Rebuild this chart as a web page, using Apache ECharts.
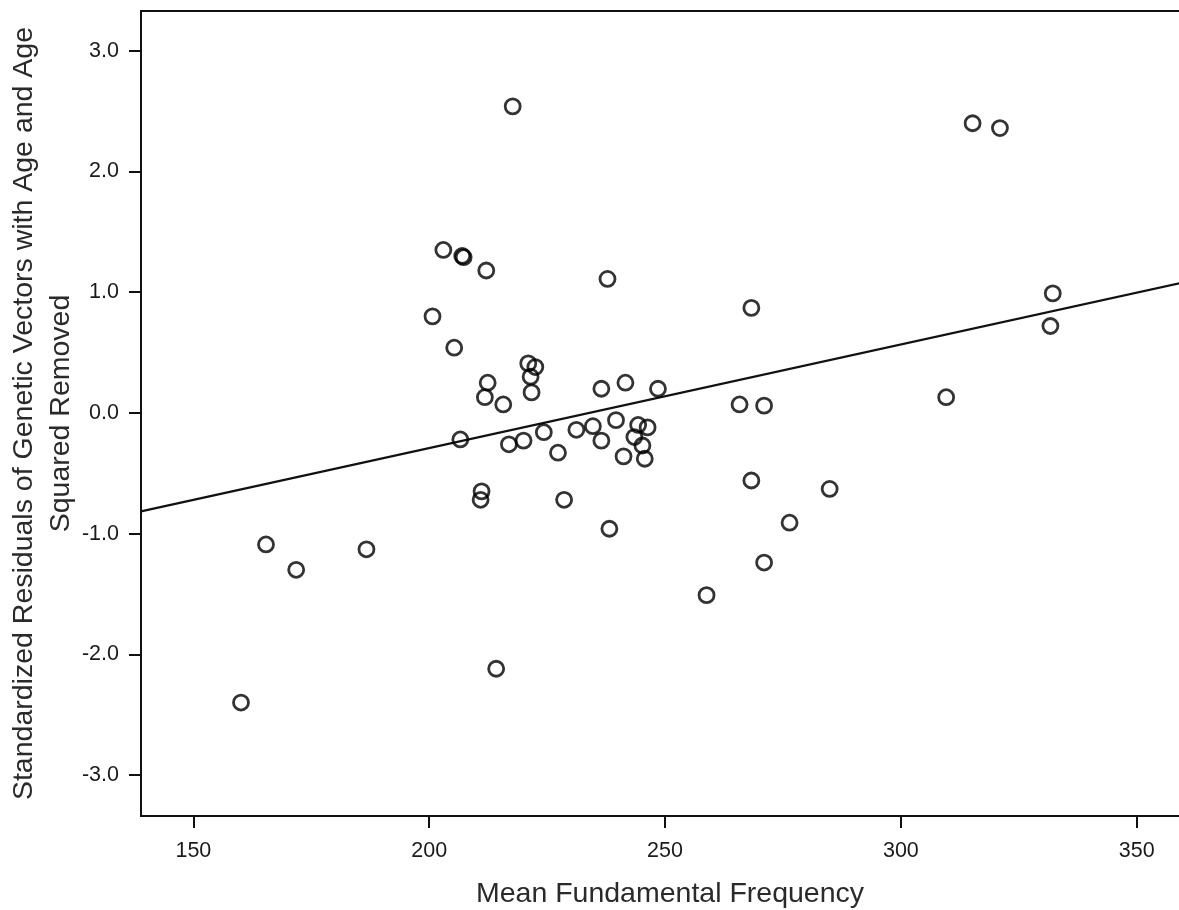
<!DOCTYPE html>
<html>
<head>
<meta charset="utf-8">
<script src="https://cdn.jsdelivr.net/npm/echarts@6/dist/echarts.min.js"></script>
<style>
html,body{margin:0;padding:0;background:#fff;}
#chart{width:1179px;height:910px;}
</style>
</head>
<body>
<div id="chart"></div>
<script>
// Mean fundamental frequency (x) and standardized residuals (y)
const freqValues = [160.1, 165.4, 171.8, 186.7, 200.7, 203.0, 207.0, 207.3, 205.3, 206.6,
  212.1, 212.4, 211.8, 215.7, 217.7, 211.1, 210.9, 214.2, 216.9, 220.0,
  221.0, 222.5, 221.5, 221.7, 224.3, 227.3, 228.6, 231.2, 234.7, 236.5,
  236.5, 237.8, 238.2, 239.6, 241.2, 241.6, 243.5, 244.3, 245.2, 245.7,
  246.3, 248.5, 258.8, 265.8, 268.3, 268.3, 271.0, 271.0, 276.4, 284.9,
  309.6, 315.2, 321.0, 331.7, 332.2];
const residualValues = [-2.40, -1.09, -1.30, -1.13, 0.80, 1.35, 1.30, 1.29, 0.54, -0.22,
  1.18, 0.25, 0.13, 0.07, 2.54, -0.65, -0.72, -2.12, -0.26, -0.23,
  0.41, 0.38, 0.30, 0.17, -0.16, -0.33, -0.72, -0.14, -0.11, 0.20,
  -0.23, 1.11, -0.96, -0.06, -0.36, 0.25, -0.20, -0.10, -0.27, -0.38,
  -0.12, 0.20, -1.51, 0.07, 0.87, -0.56, 0.06, -1.24, -0.91, -0.63,
  0.13, 2.40, 2.36, 0.72, 0.99];
// Fit line endpoints
const fitX = [138.9, 363.2];
const fitY = [-0.816, 1.11];
// Tick labels
const xTicks = [150, 200, 250, 300, 350];
const yTicks = [-3, -2, -1, 0, 1, 2, 3];

const xTitle = 'Mean Fundamental Frequency';
const yTitle = 'Standardized Residuals of Genetic Vectors with Age and Age\nSquared Removed';

const points = freqValues.map((x, i) => [x, residualValues[i]]);
const fitLine = fitX.map((x, i) => [x, fitY[i]]);

const FONT = "'Liberation Sans', Arial, sans-serif";
const chart = echarts.init(document.getElementById('chart'), null, {renderer: 'canvas'});
chart.setOption({
  backgroundColor: '#ffffff',
  animation: false,
  grid: {left: 141, top: 11, right: -20, bottom: 94, show: true, borderColor: '#111', borderWidth: 2,
    backgroundColor: 'transparent', containLabel: false, outerBoundsMode: 'none'},
  xAxis: {
    type: 'value', min: 138.9, max: 363.2,
    name: xTitle, nameLocation: 'middle', nameGap: 64, nameMoveOverlap: false,
    nameTextStyle: {fontFamily: FONT, fontSize: 28.5, color: '#2a2a2a'},
    axisLine: {show: true, onZero: false, lineStyle: {color: '#111', width: 2}},
    axisTick: {show: true, customValues: xTicks, length: 12, inside: false, lineStyle: {color: '#111', width: 2}},
    axisLabel: {customValues: xTicks, margin: 24, fontFamily: FONT, fontSize: 21.5, color: '#1a1a1a'},
    splitLine: {show: false}
  },
  yAxis: {
    type: 'value', min: -3.34, max: 3.33,
    name: yTitle, nameLocation: 'middle', nameGap: 61, nameRotate: 90, nameMoveOverlap: false,
    nameTextStyle: {fontFamily: FONT, fontSize: 28.5, color: '#2a2a2a', lineHeight: 37, align: 'center'},
    axisLine: {show: true, onZero: false, lineStyle: {color: '#111', width: 2}},
    axisTick: {show: true, customValues: yTicks, length: 12, inside: false, lineStyle: {color: '#111', width: 2}},
    axisLabel: {customValues: yTicks, margin: 22, fontFamily: FONT, fontSize: 21.5, color: '#1a1a1a',
      formatter: v => Number(v).toFixed(1)},
    splitLine: {show: false}
  },
  series: [
    {
      type: 'line', data: fitLine, symbol: 'none', silent: true, clip: true,
      lineStyle: {color: '#111', width: 2.2}, z: 2
    },
    {
      type: 'scatter', data: points, symbol: 'circle', symbolSize: 15,
      itemStyle: {color: 'rgba(0,0,0,0)', borderColor: '#000', borderWidth: 2.8}, z: 3
    }
  ]
});
</script>
</body>
</html>
